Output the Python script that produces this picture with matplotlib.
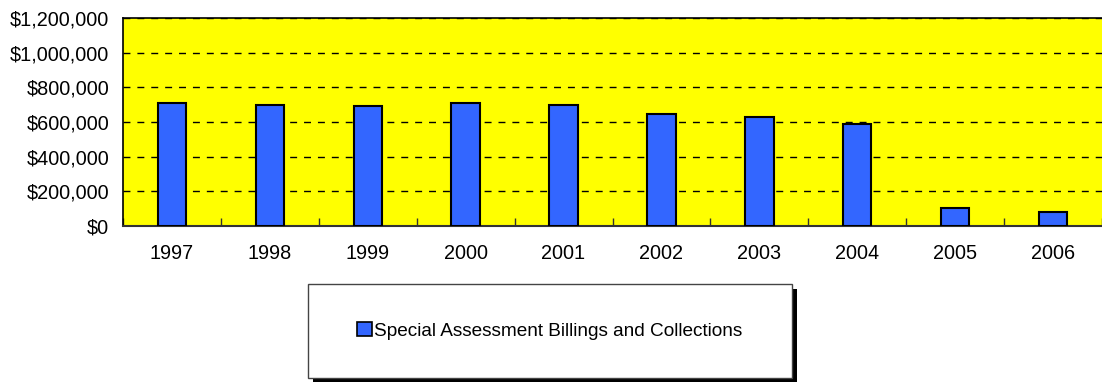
import matplotlib.pyplot as plt
from matplotlib.patches import Rectangle
from matplotlib.ticker import FuncFormatter, MultipleLocator

years = ["1997", "1998", "1999", "2000", "2001", "2002", "2003", "2004", "2005", "2006"]
billings = [707000, 699000, 694000, 711000, 700000, 648000, 629000, 589000, 102000, 79000]
series_name = "Special Assessment Billings and Collections"

YELLOW = "#FFFF00"
BLUE = "#3366FF"

plt.rcParams["font.family"] = ["Liberation Sans", "DejaVu Sans"]

W, H = 1102, 382
fig = plt.figure(figsize=(W / 100, H / 100), dpi=100)
ax = fig.add_axes([123 / W, 1 - 226 / H, (W - 123) / W, (226 - 18) / H])
ax.set_facecolor(YELLOW)

x = list(range(len(years)))
bars = ax.bar(x, billings, width=0.29, color=BLUE, edgecolor="black",
              linewidth=1.5, zorder=3, label=series_name)

ax.set_ylim(0, 1200000)
ax.set_xlim(-0.5, 9.44)
ax.yaxis.set_major_locator(MultipleLocator(200000))
ax.yaxis.set_major_formatter(FuncFormatter(lambda v, p: f"${v:,.0f}"))
ax.set_xticks(x)
ax.set_xticklabels(years)
ax.tick_params(axis="x", length=0, pad=13, labelsize=14.3)
ax.tick_params(axis="y", length=0, pad=10, labelsize=14.3)

# slot dividers on the category axis, pointing inward
ax.set_xticks([i - 0.5 for i in range(len(years) + 1)], minor=True)
ax.tick_params(axis="x", which="minor", direction="in", length=6,
               width=1, color="#333333")

ax.grid(axis="y", color="black", linestyle=(0, (5, 5)), linewidth=1, zorder=1)
for s in ["top", "left"]:
    ax.spines[s].set_color("black")
    ax.spines[s].set_linewidth(1.2)
ax.spines["bottom"].set_color("#333333")
ax.spines["bottom"].set_linewidth(1.5)
ax.spines["right"].set_visible(False)

# legend box with shadow
lx0, ly0, lx1, ly1 = 308, 284, 792, 378
fig.patches.append(Rectangle(((lx0 + 5) / W, 1 - (ly1 + 5) / H),
                             (lx1 - lx0) / W, (ly1 - ly0) / H,
                             transform=fig.transFigure, facecolor="black",
                             edgecolor="none", zorder=1))
fig.patches.append(Rectangle((lx0 / W, 1 - ly1 / H),
                             (lx1 - lx0) / W, (ly1 - ly0) / H,
                             transform=fig.transFigure, facecolor="white",
                             edgecolor="#444444", linewidth=1, zorder=2))
leg = fig.legend(handles=[bars], labels=[series_name], loc="center",
                 bbox_to_anchor=((lx0 + lx1) / 2 / W, 1 - (ly0 + ly1) / 2 / H),
                 frameon=False, fontsize=13.7, handlelength=0.75, handleheight=0.75,
                 handletextpad=0.15)
leg.set_zorder(5)
for h in leg.legend_handles:
    h.set_linewidth(1.2)

fig.savefig("out.png", dpi=100)
